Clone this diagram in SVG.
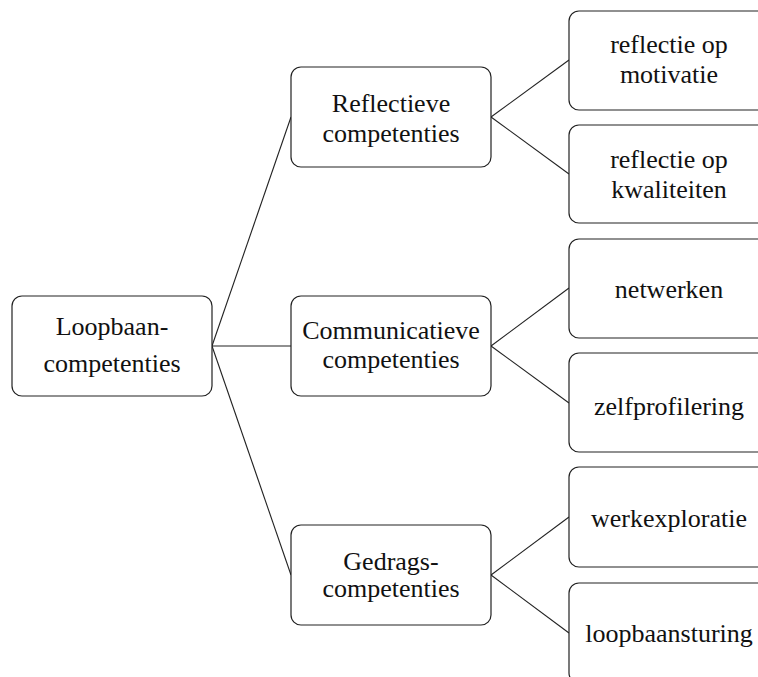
<svg xmlns="http://www.w3.org/2000/svg" width="758" height="677" viewBox="0 0 758 677">
<style>
.box{fill:#fff;stroke:#222;stroke-width:1.2}
.t{font-family:'Liberation Serif','Times New Roman',Times,'DejaVu Serif',serif;font-size:26px;fill:#111;text-anchor:middle}
.c{stroke:#222;stroke-width:1.1;fill:none}
</style>
<rect width="758" height="677" fill="#fff"/>
<g id="connectors">
<line class="c" x1="212" y1="346" x2="291" y2="117"/>
<line class="c" x1="212" y1="346" x2="291" y2="346"/>
<line class="c" x1="212" y1="346" x2="291" y2="575"/>
<line class="c" x1="491" y1="117" x2="569" y2="60"/>
<line class="c" x1="491" y1="117" x2="569" y2="174"/>
<line class="c" x1="491" y1="346" x2="569" y2="288"/>
<line class="c" x1="491" y1="346" x2="569" y2="403"/>
<line class="c" x1="491" y1="575" x2="569" y2="517"/>
<line class="c" x1="491" y1="575" x2="569" y2="633"/>
</g>
<g id="root">
<rect class="box" x="12" y="296" width="200" height="100" rx="10"/>
<text class="t" font-family="Liberation Serif, serif" x="112" y="335">Loopbaan-</text>
<text class="t" font-family="Liberation Serif, serif" x="112" y="372">competenties</text>
</g>
<g id="reflectieve">
<rect class="box" x="291" y="67" width="200" height="100" rx="10"/>
<text class="t" font-family="Liberation Serif, serif" x="391" y="112">Reflectieve</text>
<text class="t" font-family="Liberation Serif, serif" x="391" y="142">competenties</text>
</g>
<g id="communicatieve">
<rect class="box" x="291" y="296" width="200" height="100" rx="10"/>
<text class="t" font-family="Liberation Serif, serif" x="391" y="339">Communicatieve</text>
<text class="t" font-family="Liberation Serif, serif" x="391" y="368">competenties</text>
</g>
<g id="gedrags">
<rect class="box" x="291" y="525" width="200" height="100" rx="10"/>
<text class="t" font-family="Liberation Serif, serif" x="391" y="570">Gedrags-</text>
<text class="t" font-family="Liberation Serif, serif" x="391" y="597">competenties</text>
</g>
<g id="motivatie">
<rect class="box" x="569" y="11" width="200" height="99" rx="10"/>
<text class="t" font-family="Liberation Serif, serif" x="669" y="53">reflectie op</text>
<text class="t" font-family="Liberation Serif, serif" x="669" y="83">motivatie</text>
</g>
<g id="kwaliteiten">
<rect class="box" x="569" y="125" width="200" height="98" rx="10"/>
<text class="t" font-family="Liberation Serif, serif" x="669" y="168">reflectie op</text>
<text class="t" font-family="Liberation Serif, serif" x="669" y="198">kwaliteiten</text>
</g>
<g id="netwerken">
<rect class="box" x="569" y="239" width="200" height="99" rx="10"/>
<text class="t" font-family="Liberation Serif, serif" x="669" y="298">netwerken</text>
</g>
<g id="zelfprofilering">
<rect class="box" x="569" y="353" width="200" height="99" rx="10"/>
<text class="t" font-family="Liberation Serif, serif" x="669" y="415">zelfprofilering</text>
</g>
<g id="werkexploratie">
<rect class="box" x="569" y="467" width="200" height="100" rx="10"/>
<text class="t" font-family="Liberation Serif, serif" x="669" y="527">werkexploratie</text>
</g>
<g id="loopbaansturing">
<rect class="box" x="569" y="583" width="200" height="100" rx="10"/>
<text class="t" font-family="Liberation Serif, serif" x="669" y="642">loopbaansturing</text>
</g>
</svg>
